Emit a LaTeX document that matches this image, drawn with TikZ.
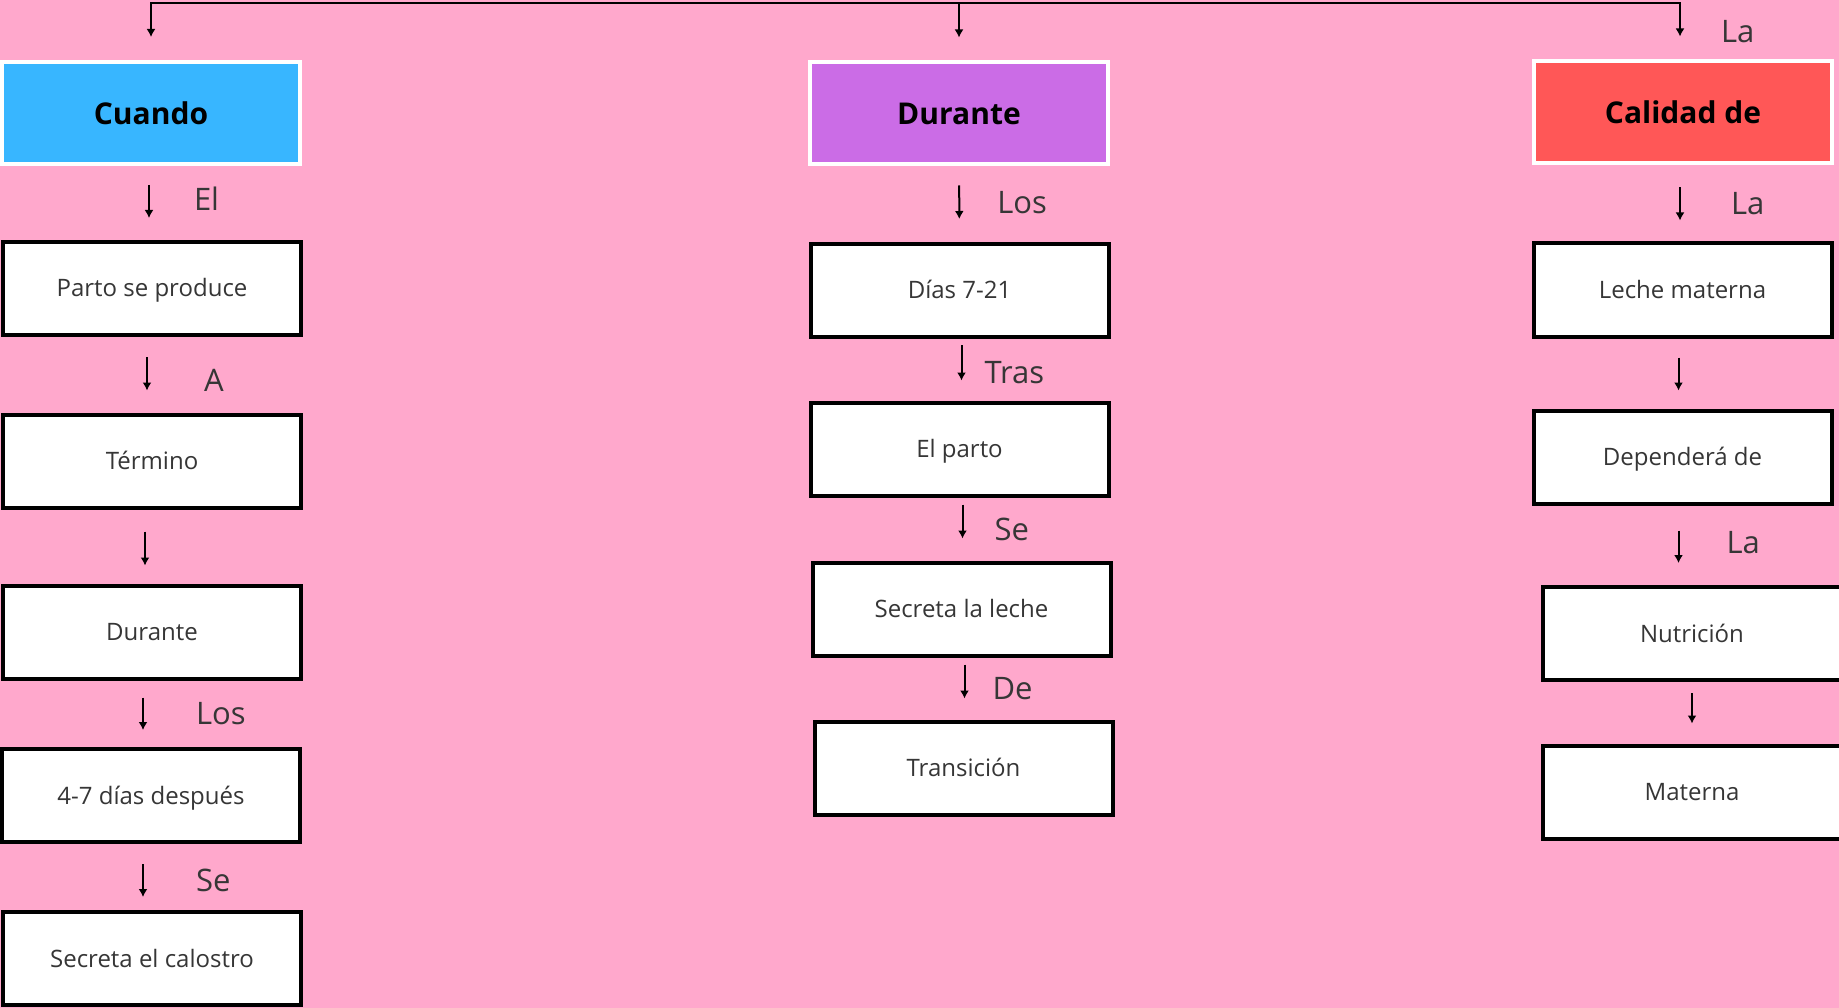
\documentclass[tikz,border=0pt]{standalone}
\usepackage{fontspec}
\setmainfont{Open Sans}
\usetikzlibrary{arrows.meta, positioning}
\definecolor{fondoRosa}{HTML}{FFA8CC}
\definecolor{azulCuando}{HTML}{38B6FF}
\definecolor{moradoDurante}{HTML}{CB6CE6}
\definecolor{rojoCalidad}{HTML}{FF5757}
\definecolor{textoGris}{HTML}{363636}

\begin{document}
\begin{tikzpicture}[x=1pt, y=-1pt,
        cab/.style={draw=white, line width=4pt, minimum width=298pt, minimum height=102pt,
            inner sep=0pt, font=\bfseries\fontsize{30}{36}\selectfont},
        caja/.style={draw=black, fill=white, line width=4pt, minimum width=298pt, minimum height=93pt,
            inner sep=0pt, text height=17pt, text depth=0pt, text=textoGris,
            font=\fontsize{24}{30}\selectfont},
        flecha/.style={-{Latex[length=8pt,width=9pt]}, line width=2pt},
        etiq/.style={anchor=west, inner sep=0pt, text=textoGris, font=\fontsize{31}{36}\selectfont}
    ]
        \fill[fondoRosa] (0,0) rectangle (1839,1008);
        \useasboundingbox (0,0) rectangle (1839,1008);

        % cabeceras
        \node[cab, fill=azulCuando] (cuando) at (151,113) {Cuando};
        \node[cab, fill=moradoDurante] (durante) at (959,113.5) {Durante};
        \node[cab, fill=rojoCalidad] (calidad) at (1683,112.5) {Calidad de};
        \coordinate (bus) at (959,3);

        % columna izquierda
        \node[caja] (parto) at (152,288.5) {Parto se produce};
        \node[caja] (termino) at (152,461) {Término};
        \node[caja] (durLeft) at (152,632) {Durante};
        \node[caja] (dias47) at (151,795.5) {4-7 días después};
        \node[caja] (calostro) at (152,958.5) {Secreta el calostro};

        % columna central
        \node[caja] (dias721) at (959.5,290.5) {Días 7-21};
        \node[caja] (elParto) at (959.5,449) {El parto};
        \node[caja] (secLeche) at (961.5,609) {Secreta la leche};
        \node[caja] (transicion) at (963.5,768) {Transición};

        % columna derecha
        \node[caja] (lecheMat) at (1682.5,290) {Leche materna};
        \node[caja] (dependera) at (1682.5,457) {Dependerá de};
        \node[caja] (nutricion) at (1692,633.5) {Nutrición};
        \node[caja] (materna) at (1692,792) {Materna};

        \draw[flecha, shorten >=23pt] (bus) -| (cuando.north);
        \draw[flecha, shorten >=23pt] (bus) -- (durante.north);
        \draw[flecha, shorten >=23pt] (bus) -| ([xshift=-3pt]calidad.north)
            node[etiq, pos=0.75, xshift=40pt]{La};

        \draw[flecha, shorten <=19pt, shorten >=22pt] ([xshift=-2pt]cuando.south) -- ([xshift=-2pt]cuando.south |- parto.north)
            node[etiq, midway, xshift=44pt, yshift=4pt]{El};
        \draw[flecha, shorten <=20pt, shorten >=22pt] ([xshift=-5pt]parto.south) -- ([xshift=-5pt]termino.north)
            node[etiq, midway, xshift=56pt, yshift=-6pt]{A};
        \draw[flecha, shorten <=22pt, shorten >=18pt] ([xshift=-7pt]termino.south) -- ([xshift=-7pt]durLeft.north);
        \draw[flecha, shorten <=17pt, shorten >=17pt] ([xshift=-9pt]durLeft.south) -- ([xshift=-9pt]durLeft.south |- dias47.north)
            node[etiq, midway, xshift=52pt]{Los};
        \draw[flecha, shorten <=20pt, shorten >=13pt] ([xshift=-8pt]dias47.south) -- ([xshift=-8pt]dias47.south |- calostro.north)
            node[etiq, midway, xshift=52pt, yshift=-3pt]{Se};

        \draw[flecha, shorten <=19pt, shorten >=23pt] (durante) -- (dias721)
            node[etiq, pos=0.5, xshift=37pt, yshift=2pt]{Los};
        \draw[flecha, shorten <=6pt, shorten >=20pt] ([xshift=2pt]dias721.south) -- ([xshift=2pt]elParto.north)
            node[etiq, midway, xshift=22pt, yshift=-3pt]{Tras};
        \draw[flecha, shorten <=7pt, shorten >=22pt] ([xshift=3pt]elParto.south) -- ([xshift=3pt]elParto.south |- secLeche.north)
            node[etiq, midway, xshift=31pt]{Se};
        \draw[flecha, shorten <=7pt, shorten >=21pt] ([xshift=3pt]secLeche.south) -- ([xshift=3pt]secLeche.south |- transicion.north)
            node[etiq, midway, xshift=27pt]{De};

        \draw[flecha, shorten <=22pt, shorten >=21pt] ([xshift=-3pt]calidad.south) -- ([xshift=-3pt]calidad.south |- lecheMat.north)
            node[etiq, midway, xshift=50pt]{La};
        \draw[flecha, shorten <=19pt, shorten >=18pt] ([xshift=-4pt]lecheMat.south) -- ([xshift=-4pt]dependera.north);
        \draw[flecha, shorten <=25pt, shorten >=22pt] ([xshift=-4pt]dependera.south) -- ([xshift=-4pt]dependera.south |- nutricion.north)
            node[etiq, midway, xshift=47pt, yshift=3pt]{La};
        \draw[flecha, shorten <=11pt, shorten >=20pt] (nutricion) -- (materna);
    \end{tikzpicture}
\end{document}
